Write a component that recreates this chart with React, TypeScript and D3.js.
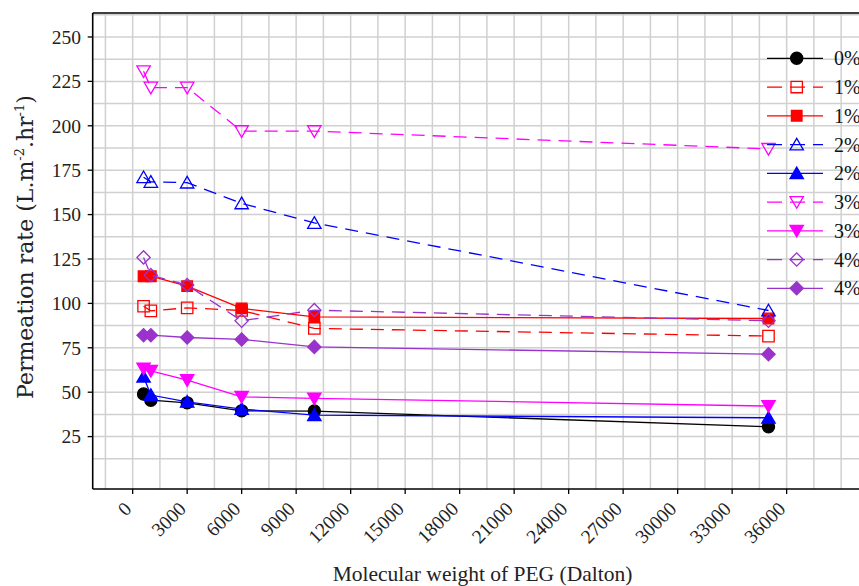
import React from "react";
import * as d3 from "d3";

// Molecular weight of PEG additive (Dalton)
const pegWeights = [600, 1000, 3000, 6000, 10000, 35000];

// Permeation rate (L.m-2.hr-1) for each additive loading
const rate0 = [49, 45.5, 44, 39.5, 39.4, 30.5];
const rate1a = [98.4, 95.8, 97.5, 96, 85.9, 81.6];
const rate1b = [115.3, 115.3, 109.7, 97.2, 92.4, 91.5];
const rate2a = [171, 168.4, 168, 156.3, 145.3, 96];
const rate2b = [58.7, 48.4, 44.6, 40.5, 37.1, 35.6];
const rate3a = [230.7, 221.5, 221.5, 197, 197, 187];
const rate3b = [63.4, 62, 56.8, 47.4, 46.5, 42.2];
const rate4a = [125.9, 115.9, 110.3, 90.2, 96.2, 90.2];
const rate4b = [82.1, 82.1, 80.8, 79.7, 75.5, 71.4];

const legendLabels = ["0%", "1%", "1%", "2%", "2%", "3%", "3%", "4%", "4%"];
const xTickValues = d3.range(0, 36001, 3000);
const yTickValues = d3.range(25, 251, 25);

type Shape = "circle" | "square" | "triUp" | "triDown" | "diamond";
type Series = { label: string; values: number[]; color: string; shape: Shape; open: boolean };

const seriesList: Series[] = [
  { label: legendLabels[0], values: rate0, color: "#000000", shape: "circle", open: false },
  { label: legendLabels[1], values: rate1a, color: "#ff0000", shape: "square", open: true },
  { label: legendLabels[2], values: rate1b, color: "#ff0000", shape: "square", open: false },
  { label: legendLabels[3], values: rate2a, color: "#0000ff", shape: "triUp", open: true },
  { label: legendLabels[4], values: rate2b, color: "#0000ff", shape: "triUp", open: false },
  { label: legendLabels[5], values: rate3a, color: "#ff00ff", shape: "triDown", open: true },
  { label: legendLabels[6], values: rate3b, color: "#ff00ff", shape: "triDown", open: false },
  { label: legendLabels[7], values: rate4a, color: "#9933cc", shape: "diamond", open: true },
  { label: legendLabels[8], values: rate4b, color: "#9933cc", shape: "diamond", open: false },
];

const W = 859;
const H = 586;
const plotLeft = 92.7;
const plotTop = 13;
const plotBottom = 489;

const x = d3.scaleLinear().domain([-2200, 40500]).range([plotLeft, 868.4]);
const y = d3.scaleLinear().domain([-4.5, 263.5]).range([plotBottom, plotTop]);

const gridX = d3.range(-1500, 40501, 1500);
const gridY = d3.range(12.5, 263, 12.5);

function markerPath(shape: Shape, open: boolean): { d: string; rotate: number } {
  switch (shape) {
    case "circle":
      return { d: d3.symbol(d3.symbolCircle, 115)() as string, rotate: 0 };
    case "square":
      return { d: d3.symbol(d3.symbolSquare, open ? 130 : 112)() as string, rotate: 0 };
    case "triUp":
      return { d: d3.symbol(d3.symbolTriangle, 78)() as string, rotate: 0 };
    case "triDown":
      return { d: d3.symbol(d3.symbolTriangle, 78)() as string, rotate: 180 };
    case "diamond":
      return { d: d3.symbol(d3.symbolSquare, 88)() as string, rotate: 45 };
  }
}

function Marker({ s, cx, cy }: { s: Series; cx: number; cy: number }) {
  const m = markerPath(s.shape, s.open);
  const dy = s.shape === "triUp" ? 1.5 : s.shape === "triDown" ? -1.5 : 0;
  return (
    <path
      d={m.d}
      transform={`translate(${cx},${cy + dy}) rotate(${m.rotate})`}
      fill={s.open ? "none" : s.color}
      stroke={s.color}
      strokeWidth={1.3}
    />
  );
}

export default function App() {
  const line = d3
    .line<number>()
    .x((_, i) => x(pegWeights[i]))
    .y((v) => y(v));

  const legendX0 = 767;
  const legendX1 = 823;
  const legendMarkerX = 796.7;
  const legendY0 = 58.3;
  const legendStep = 28.75;

  return (
    <svg
      width={W}
      height={H}
      style={{ position: "absolute", left: 0, top: 0, background: "#ffffff" }}
      fontFamily="'Liberation Serif', 'Times New Roman', serif"
    >
      <rect x={0} y={0} width={W} height={H} fill="#ffffff" />
      <defs>
        <clipPath id="plotClip">
          <rect x={plotLeft} y={plotTop} width={W - plotLeft} height={plotBottom - plotTop} />
        </clipPath>
      </defs>

      {/* grid */}
      <g stroke="#d0d0d0" strokeWidth={1.5}>
        {gridX.map((v) => (
          <line key={`gx${v}`} x1={x(v)} x2={x(v)} y1={plotTop} y2={plotBottom} />
        ))}
        {gridY.map((v) => (
          <line key={`gy${v}`} x1={plotLeft} x2={W} y1={y(v)} y2={y(v)} />
        ))}
      </g>

      {/* series */}
      <g clipPath="url(#plotClip)">
        {seriesList.map((s, si) => (
          <g key={`s${si}`}>
            <path
              d={line(s.values) as string}
              fill="none"
              stroke={s.color}
              strokeWidth={1.3}
              strokeDasharray={s.open ? "13,8" : undefined}
            />
            {s.values.map((v, i) => (
              <Marker key={i} s={s} cx={x(pegWeights[i])} cy={y(v)} />
            ))}
          </g>
        ))}
      </g>

      {/* frame */}
      <g stroke="#000" strokeWidth={1.6} fill="none">
        <line x1={plotLeft} x2={W} y1={plotTop} y2={plotTop} />
        <line x1={plotLeft} x2={plotLeft} y1={plotTop} y2={plotBottom} />
        <line x1={plotLeft} x2={W} y1={plotBottom} y2={plotBottom} />
      </g>

      {/* y axis */}
      <g>
        {yTickValues.map((v) => (
          <g key={`yt${v}`}>
            <line x1={plotLeft - 5} x2={plotLeft} y1={y(v)} y2={y(v)} stroke="#000" strokeWidth={1.3} />
            <text x={81} y={y(v)} dy="0.35em" textAnchor="end" fontSize={19.5} fill="#222">
              {v}
            </text>
          </g>
        ))}
      </g>

      {/* x axis */}
      <g>
        {xTickValues.map((v) => (
          <g key={`xt${v}`}>
            <line x1={x(v)} x2={x(v)} y1={plotBottom} y2={plotBottom + 5} stroke="#000" strokeWidth={1.3} />
            <text
              transform={`translate(${x(v)},510) rotate(-45)`}
              textAnchor="end"
              fontSize={19.5}
              fill="#222"
            >
              {v}
            </text>
          </g>
        ))}
      </g>

      {/* axis titles */}
      <text x={482.5} y={581} textAnchor="middle" fontSize={21.5} fill="#222">
        Molecular weight of PEG (Dalton)
      </text>
      <text
        transform="translate(33,247) rotate(-90)"
        textAnchor="middle"
        fontSize={22}
        fontFamily="'DejaVu Serif', serif"
        fill="#222"
      >
        Permeation rate (L.m
        <tspan fontSize={13} dy={-9}>-2</tspan>
        <tspan dy={9}>.hr</tspan>
        <tspan fontSize={13} dy={-9}>-1</tspan>
        <tspan dy={9}>)</tspan>
      </text>

      {/* legend */}
      <g>
        {seriesList.map((s, i) => {
          const ly = legendY0 + i * legendStep;
          return (
            <g key={`lg${i}`}>
              <line
                x1={legendX0}
                x2={legendX1}
                y1={ly}
                y2={ly}
                stroke={s.color}
                strokeWidth={1.3}
                strokeDasharray={s.open ? "15,8" : undefined}
              />
              <Marker s={s} cx={legendMarkerX} cy={ly} />
              <text x={834} y={ly} dy="0.35em" fontSize={20} fill="#111">
                {s.label}
              </text>
            </g>
          );
        })}
      </g>
    </svg>
  );
}
